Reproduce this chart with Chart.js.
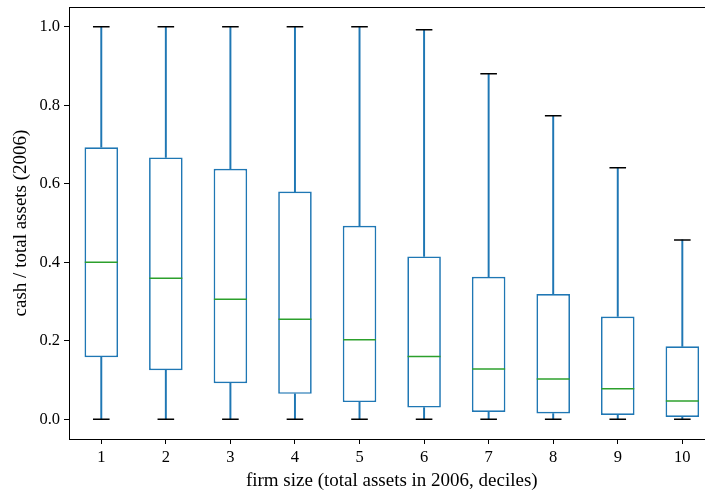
<!DOCTYPE html>
<html>
<head>
<meta charset="utf-8">
<script src="https://cdn.jsdelivr.net/npm/chart.js@4"></script>
<style>
    html, body { margin: 0; padding: 0; background: #fff; overflow: hidden; }
    #wrap { width: 705px; height: 495px; overflow: hidden; }
</style>
</head>
<body>
<div id="wrap"><canvas id="myChart" width="720" height="495"></canvas></div>
<script>
// Dados do boxplot
var categorias = ['1', '2', '3', '4', '5', '6', '7', '8', '9', '10'];
var bigodeMin = [0, 0, 0, 0, 0, 0, 0, 0, 0, 0];
var q1 = [0.158, 0.125, 0.092, 0.065, 0.044, 0.030, 0.019, 0.015, 0.011, 0.006];
var mediana = [0.400, 0.359, 0.306, 0.255, 0.203, 0.160, 0.128, 0.103, 0.078, 0.047];
var q3 = [0.693, 0.667, 0.638, 0.580, 0.493, 0.415, 0.363, 0.319, 0.262, 0.186];
var bigodeMax = [1.0, 1.0, 1.0, 1.0, 1.0, 0.992, 0.880, 0.773, 0.641, 0.457];
var ticksY = [0.0, 0.2, 0.4, 0.6, 0.8, 1.0];

var azul = '#1f77b4';
var verde = '#2ca02c';
var fonte = "'Liberation Serif', 'DejaVu Serif', serif";

function intervalo(a, b) {
    return a.map(function (v, i) { return [v, b[i]]; });
}

// Moldura de cima/direita como no matplotlib
var moldura = {
    id: 'moldura',
    afterDraw: function (chart) {
        var a = chart.chartArea;
        var ctx = chart.ctx;
        ctx.save();
        ctx.strokeStyle = '#000';
        ctx.lineWidth = 1;
        ctx.strokeRect(a.left + 0.5, a.top + 0.5, a.right - a.left, a.bottom - a.top);
        ctx.restore();
    }
};

var ctx = document.getElementById('myChart').getContext('2d');
var myChart = new Chart(ctx, {
    type: 'bar',
    data: {
        labels: categorias,
        datasets: [{
            // bigode inferior
            data: intervalo(bigodeMin, q1),
            backgroundColor: azul,
            borderWidth: 0,
            barThickness: 1.3,
            grouped: false,
            order: 5
        }, {
            // bigode superior
            data: intervalo(q3, bigodeMax),
            backgroundColor: azul,
            borderWidth: 0,
            barThickness: 1.3,
            grouped: false,
            order: 5
        }, {
            // caixa
            data: intervalo(q1, q3),
            backgroundColor: 'rgba(255,255,255,1)',
            borderColor: azul,
            borderWidth: 1.7,
            borderSkipped: false,
            barPercentage: 0.52,
            categoryPercentage: 1.0,
            grouped: false,
            order: 4
        }, {
            type: 'line',
            data: bigodeMin,
            showLine: false,
            pointStyle: 'line',
            pointRadius: 8.3,
            pointBorderColor: '#000',
            pointBorderWidth: 1.5,
            order: 1
        }, {
            type: 'line',
            data: bigodeMax,
            showLine: false,
            pointStyle: 'line',
            pointRadius: 8.3,
            pointBorderColor: '#000',
            pointBorderWidth: 1.5,
            order: 1
        }, {
            type: 'line',
            data: mediana,
            showLine: false,
            pointStyle: 'line',
            pointRadius: 16.5,
            pointBorderColor: verde,
            pointBorderWidth: 1.5,
            order: 0
        }]
    },
    options: {
        responsive: false,
        animation: false,
        events: [],
        layout: { autoPadding: false, padding: { top: 7, right: 5.4, left: 0, bottom: 0 } },
        plugins: {
            legend: { display: false },
            tooltip: { enabled: false }
        },
        scales: {
            x: {
                offset: true,
                grid: { offset: false, drawOnChartArea: false, drawTicks: true, tickLength: 5, tickColor: '#000', tickWidth: 1 },
                border: { color: '#000', width: 1 },
                ticks: { color: '#000', font: { family: fonte, size: 16.5 }, padding: 4, maxRotation: 0 },
                title: { display: true, text: 'firm size (total assets in 2006, deciles)', color: '#000', font: { family: fonte, size: 19 }, padding: { top: 0, bottom: 3 } },
                afterFit: function (s) {
                    s.height = 56;
                    s.paddingLeft = 0;
                    s.paddingRight = 0;
                }
            },
            y: {
                min: -0.05,
                max: 1.05,
                grid: { drawOnChartArea: false, drawTicks: true, tickLength: 5, tickColor: '#000', tickWidth: 1 },
                border: { color: '#000', width: 1 },
                afterBuildTicks: function (s) {
                    s.ticks = ticksY.map(function (v) { return { value: v }; });
                },
                ticks: {
                    color: '#000',
                    font: { family: fonte, size: 16.5 },
                    padding: 4,
                    callback: function (v) { return Number(v).toFixed(1); }
                },
                title: { display: true, text: 'cash / total assets (2006)', color: '#000', font: { family: fonte, size: 19 }, padding: { top: 10, bottom: 0 } },
                afterFit: function (s) {
                    s.width = 69;
                    s.paddingTop = 0;
                    s.paddingBottom = 0;
                }
            }
        }
    },
    plugins: [moldura]
});
</script>
</body>
</html>
